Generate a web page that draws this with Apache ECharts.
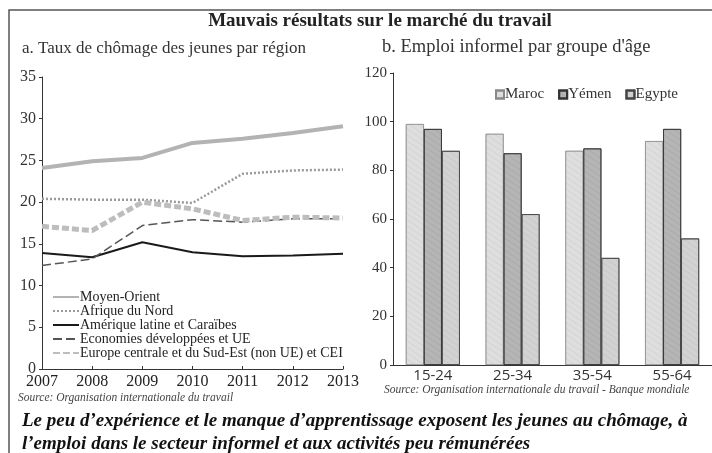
<!DOCTYPE html>
<html>
<head>
<meta charset="utf-8">
<script src="https://cdn.jsdelivr.net/npm/echarts@6/dist/echarts.min.js"></script>
<style>
  html, body { margin: 0; padding: 0; background: #fff; }
  #chart { width: 712px; height: 453px; }
</style>
</head>
<body>
<div id="chart"></div>
<script>
// données graphique a (taux de chômage des jeunes, %)
const years = ['2007', '2008', '2009', '2010', '2011', '2012', '2013'];
const moyenOrient = [24.1, 24.9, 25.3, 27.1, 27.6, 28.3, 29.1];
const afriqueNord = [20.4, 20.3, 20.3, 19.9, 23.4, 23.8, 23.9];
const ameriqueLatine = [13.9, 13.4, 15.2, 14.0, 13.5, 13.6, 13.8];
const economiesDev = [12.4, 13.2, 17.2, 17.9, 17.6, 18.0, 18.0];
const europeCentrale = [17.1, 16.6, 20.0, 19.2, 17.8, 18.2, 18.1];

// données graphique b (emploi informel, %)
const ageGroups = ['15-24', '25-34', '35-54', '55-64'];
const maroc = [99, 95, 88, 92];
const yemen = [97, 87, 89, 97];
const egypte = [88, 62, 44, 52];

const serif = '"Liberation Serif", "DejaVu Serif", serif';

const chart = echarts.init(document.getElementById('chart'));

function dots(color) {
    return {
        symbol: 'circle',
        symbolSize: 0.6,
        color: color,
        dashArrayX: [1, 0],
        dashArrayY: [3, 2],
        rotation: 0.6
    };
}

const option = {
    backgroundColor: '#fff',
    animation: false,
    title: [
        {
            text: 'Mauvais résultats sur le marché du travail',
            left: 380, top: 12, textAlign: 'center', padding: 0,
            textStyle: { fontFamily: serif, fontSize: 19, fontWeight: 'bold', color: '#222' }
        },
        {
            text: 'a. Taux de chômage des jeunes par région',
            left: 22, top: 40, padding: 0,
            textStyle: { fontFamily: serif, fontSize: 17, fontWeight: 'normal', color: '#333' }
        },
        {
            text: "b. Emploi informel par groupe d'âge",
            left: 382, top: 38, padding: 0,
            textStyle: { fontFamily: serif, fontSize: 18.5, fontWeight: 'normal', color: '#333' }
        },
        {
            text: 'Source: Organisation internationale du travail',
            left: 18, top: 392, padding: 0,
            textStyle: { fontFamily: serif, fontSize: 11.5, fontStyle: 'italic', fontWeight: 'normal', color: '#444' }
        },
        {
            text: 'Source: Organisation internationale du travail - Banque mondiale',
            left: 384, top: 384, padding: 0,
            textStyle: { fontFamily: serif, fontSize: 11.5, fontStyle: 'italic', fontWeight: 'normal', color: '#444' }
        },
        {
            text: "Le peu d’expérience et le manque d’apprentissage exposent les jeunes au chômage, à\nl’emploi dans le secteur informel et aux activités peu rémunérées",
            left: 22, top: 410, padding: 0,
            textStyle: { fontFamily: serif, fontSize: 19, fontStyle: 'italic', fontWeight: 'bold', color: '#111', lineHeight: 23 }
        }
    ],
    graphic: [
        {
            type: 'polyline',
            shape: { points: [[9, 460], [9, 10], [712, 10]] },
            style: { stroke: '#555', lineWidth: 1.5, fill: null }
        }
    ],
    legend: [
        {
            orient: 'vertical',
            left: 52, top: 290, padding: 0,
            itemWidth: 26, itemHeight: 10, itemGap: 0,
            itemStyle: { opacity: 0 },
            textStyle: { fontFamily: serif, fontSize: 14, lineHeight: 13.3, color: '#222', padding: [0, 0, 0, -4] },
            data: ['Moyen-Orient', 'Afrique du Nord', 'Amérique latine et Caraïbes',
                   'Economies développées et UE', 'Europe centrale et du Sud-Est (non UE) et CEI']
        },
        {
            orient: 'horizontal',
            left: 495, top: 87, padding: 0,
            itemWidth: 8, itemHeight: 8, itemGap: 14,
            icon: 'rect',
            textStyle: { fontFamily: serif, fontSize: 15, color: '#333', padding: [0, 0, 0, -4] },
            data: ['Maroc', 'Yémen', 'Egypte']
        }
    ],
    grid: [
        { left: 42, right: 369, top: 77, bottom: 84 },
        { left: 393, right: -1, top: 73, bottom: 88 }
    ],
    xAxis: [
        {
            type: 'category', gridIndex: 0, data: years, boundaryGap: false,
            axisLine: { lineStyle: { color: '#333', width: 1 } },
            axisTick: { inside: true, length: 3, lineStyle: { color: '#333' } },
            axisLabel: { fontFamily: serif, fontSize: 16, color: '#222', margin: 5 }
        },
        {
            type: 'category', gridIndex: 1, data: ageGroups,
            axisLine: { lineStyle: { color: '#333', width: 1 } },
            axisTick: { inside: true, length: 3, lineStyle: { color: '#333' } },
            axisLabel: { fontFamily: '"Open Sans", "DejaVu Sans", sans-serif', fontSize: 15, color: '#333', margin: 3 }
        }
    ],
    yAxis: [
        {
            type: 'value', gridIndex: 0, min: 0, max: 35, interval: 5,
            axisLine: { show: true, lineStyle: { color: '#333', width: 1 } },
            axisTick: { show: true, length: 3, lineStyle: { color: '#333' } },
            splitLine: { show: false },
            axisLabel: { fontFamily: serif, fontSize: 16, color: '#333', margin: 6 }
        },
        {
            type: 'value', gridIndex: 1, min: 0, max: 120, interval: 20,
            axisLine: { show: true, lineStyle: { color: '#333', width: 1 } },
            axisTick: { show: true, length: 3, lineStyle: { color: '#333' } },
            splitLine: { show: false },
            axisLabel: { fontFamily: serif, fontSize: 15, color: '#333', margin: 6 }
        }
    ],
    series: [
        {
            name: 'Moyen-Orient', type: 'line', xAxisIndex: 0, yAxisIndex: 0,
            symbol: 'none', data: moyenOrient,
            lineStyle: { color: '#b3b3b3', width: 4 }, itemStyle: { color: '#b3b3b3' }
        },
        {
            name: 'Afrique du Nord', type: 'line', xAxisIndex: 0, yAxisIndex: 0,
            symbol: 'none', data: afriqueNord,
            lineStyle: { color: '#9a9a9a', width: 2.5, type: [2, 2] }, itemStyle: { color: '#9a9a9a' }
        },
        {
            name: 'Amérique latine et Caraïbes', type: 'line', xAxisIndex: 0, yAxisIndex: 0,
            symbol: 'none', data: ameriqueLatine,
            lineStyle: { color: '#1a1a1a', width: 2 }, itemStyle: { color: '#1a1a1a' }
        },
        {
            name: 'Economies développées et UE', type: 'line', xAxisIndex: 0, yAxisIndex: 0,
            symbol: 'none', data: economiesDev,
            lineStyle: { color: '#555', width: 1.5, type: [9, 4] }, itemStyle: { color: '#555' }
        },
        {
            name: 'Europe centrale et du Sud-Est (non UE) et CEI', type: 'line', xAxisIndex: 0, yAxisIndex: 0,
            symbol: 'none', data: europeCentrale,
            lineStyle: { color: '#bdbdbd', width: 5, type: [7, 3] }, itemStyle: { color: '#bdbdbd' }
        },
        {
            name: 'Maroc', type: 'bar', xAxisIndex: 1, yAxisIndex: 1,
            data: maroc, barWidth: 18, barGap: '0%',
            itemStyle: { color: '#dedede', borderColor: '#888', borderWidth: 0.6, decal: dots('rgba(90,90,90,0.35)') }
        },
        {
            name: 'Yémen', type: 'bar', xAxisIndex: 1, yAxisIndex: 1,
            data: yemen, barWidth: 18, barGap: '0%',
            itemStyle: { color: '#b5b5b5', borderColor: '#333', borderWidth: 0.8, decal: dots('rgba(60,60,60,0.4)') }
        },
        {
            name: 'Egypte', type: 'bar', xAxisIndex: 1, yAxisIndex: 1,
            data: egypte, barWidth: 18, barGap: '0%',
            itemStyle: { color: '#d2d2d2', borderColor: '#444', borderWidth: 0.8, decal: dots('rgba(80,80,80,0.35)') }
        }
    ]
};

chart.setOption(option);
</script>
</body>
</html>
